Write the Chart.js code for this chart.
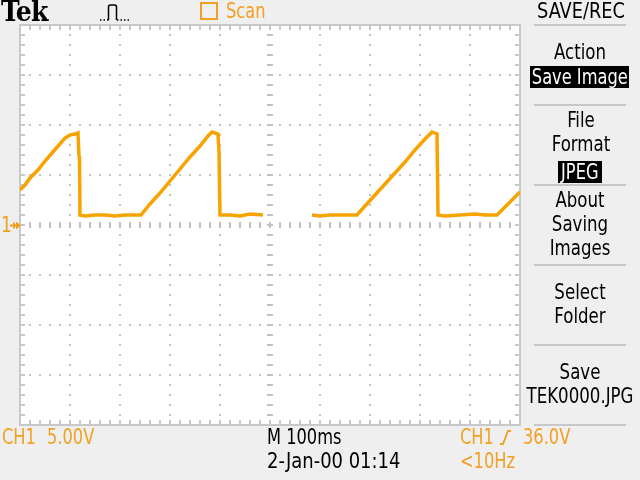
<!DOCTYPE html>
<html><head><meta charset="utf-8">
<script src="https://cdn.jsdelivr.net/npm/chart.js@4"></script>
<style>
html,body{margin:0;padding:0;background:#efefef;width:640px;height:480px;overflow:hidden}
#wrap{position:relative;width:640px;height:480px;background:#efefef}
canvas{position:absolute;left:0;top:0}
.t{position:absolute;font-family:"DejaVu Sans Condensed","Liberation Sans Narrow",sans-serif;font-size:21px;line-height:22px;height:22px;white-space:nowrap;color:#000;transform:scaleX(.86);transform-origin:left center}
.o{color:#f2a024}
.c{transform:translateX(-50%) scaleX(.88);transform-origin:center center}
.sep{position:absolute;left:534px;width:92px;height:2px;background:#c8c8c8}
.box{position:absolute;background:#000;height:22px;display:flex;justify-content:center;align-items:center;overflow:visible}
.box span{font-family:"DejaVu Sans Condensed",sans-serif;font-size:21px;line-height:22px;color:#fff;white-space:nowrap;display:inline-block;transform:scaleX(.86)}
</style></head>
<body><div id="wrap">
<canvas id="c" width="640" height="480"></canvas>
<div class="t" style="left:1px;top:-1px;height:26px;line-height:26px;font-family:'DejaVu Serif',serif;font-weight:bold;font-size:27px;letter-spacing:-1px;transform:scaleX(.93)">Tek</div>
<svg style="position:absolute;left:98px;top:2px" width="32" height="20"><path d="M2 18h1.5M5.5 18h1.5M9 18h1.5" stroke="#000" stroke-width="1.6" fill="none"/><path d="M10.5 18V5q0-2 2-2h4q2 0 2 2v13" stroke="#000" stroke-width="1.5" fill="none"/><path d="M19 18h1.5M22.5 18h1.5M26 18h1.5M29.5 18h1.5" stroke="#000" stroke-width="1.6" fill="none"/></svg>
<div style="position:absolute;left:200px;top:2px;width:14px;height:14px;border:2px solid #f2a024"></div>
<div class="t o" style="left:226px;top:0px">Scan</div>

<div class="t c" style="left:581px;top:0px;transform:translateX(-50%) scaleX(.94)">SAVE/REC</div>
<div class="sep" style="top:24px"></div>
<div class="t c" style="left:580px;top:41px">Action</div>
<div class="box" style="left:530px;top:66px;width:99px"><span>Save Image</span></div>
<div class="sep" style="top:104px"></div>
<div class="t c" style="left:581px;top:109px">File</div>
<div class="t c" style="left:581px;top:133px">Format</div>
<div class="box" style="left:558px;top:161px;width:44px"><span>JPEG</span></div>
<div class="sep" style="top:184px"></div>
<div class="t c" style="left:580px;top:189px">About</div>
<div class="t c" style="left:580px;top:213px">Saving</div>
<div class="t c" style="left:580px;top:237px">Images</div>
<div class="sep" style="top:264px"></div>
<div class="t c" style="left:580px;top:281px">Select</div>
<div class="t c" style="left:580px;top:305px">Folder</div>
<div class="sep" style="top:344px"></div>
<div class="t c" style="left:580px;top:361px">Save</div>
<div class="t c" style="left:580px;top:385px">TEK0000.JPG</div>
<div class="sep" style="top:424px"></div>

<div class="t o" style="left:1px;top:214px;font-size:22px">1</div>
<svg style="position:absolute;left:10px;top:220px" width="12" height="11"><path d="M0 5.5h6M4 2.5v6" stroke="#f2a024" stroke-width="2"/><path d="M6 1.5l5 4l-5 4z" fill="#f2a024"/></svg>

<div class="t o" style="left:2px;top:426px">CH1</div>
<div class="t o" style="left:47px;top:426px">5.00V</div>
<div class="t" style="left:267px;top:426px">M 100ms</div>
<div class="t" style="left:267px;top:450px;transform:scaleX(.95)">2-Jan-00 01:14</div>
<div class="t o" style="left:460px;top:426px">CH1</div>
<svg style="position:absolute;left:499px;top:429px" width="14" height="16"><path d="M1 15h3l5-13h3" stroke="#f2a024" stroke-width="1.8" fill="none"/></svg>
<div class="t o" style="left:523px;top:426px">36.0V</div>
<div class="t o" style="left:460px;top:450px">&lt;10Hz</div>
</div>
<script>
// time (ms) and channel 1 voltage (V); null = no acquisition (scan gap)
const timeMs = [0,10,20,36,50,64,78,90,100,110,116,118,119,120,130,150,170,190,210,230,242,
  260,280,300,320,340,360,376,384,396,398,400,420,440,460,486,488,
  582,584,600,620,650,674,690,710,730,750,770,790,810,816,824,834,836,850,880,910,930,954,970,990,1000];
const ch1Volts = [3.5,4.0,4.7,5.5,6.4,7.2,8.0,8.7,9.0,9.1,9.2,6.9,6.8,1.0,0.9,1.0,1.0,0.9,1.0,1.0,1.0,
  2.1,3.2,4.4,5.6,6.8,7.9,8.9,9.3,9.1,7.3,1.0,1.0,0.9,1.1,1.0,null,
  null,1.0,0.9,1.0,1.0,1.0,1.9,3.0,4.1,5.2,6.3,7.5,8.6,8.9,9.3,9.1,1.0,0.9,1.0,1.1,1.0,1.0,1.8,2.8,3.3];
const timeDivs = [0,100,200,300,400,500,600,700,800,900,1000];
const voltDivs = [-20,-15,-10,-5,0,5,10,15,20];

const graticule = {
  id: 'graticule',
  beforeDatasetsDraw(chart) {
    const {ctx, chartArea: a, scales: {x, y}} = chart;
    ctx.save();
    ctx.fillStyle = '#ffffff';
    ctx.fillRect(a.left, a.top, a.right - a.left, a.bottom - a.top);
    ctx.fillStyle = '#c2c2c2';
    const minorT = [], minorV = [];
    for (let t = timeDivs[0]; t <= timeDivs[timeDivs.length-1]; t += 20) minorT.push(t);
    for (let v = voltDivs[0]; v <= voltDivs[voltDivs.length-1]; v += 1) minorV.push(v);
    timeDivs.slice(1, -1).forEach(t => {
      const px = Math.round(x.getPixelForValue(t));
      minorV.forEach(v => ctx.fillRect(px - 1, Math.round(y.getPixelForValue(v)) - 1, 2, 2));
    });
    voltDivs.slice(1, -1).forEach(v => {
      const py = Math.round(y.getPixelForValue(v));
      minorT.forEach(t => ctx.fillRect(Math.round(x.getPixelForValue(t)) - 1, py - 1, 2, 2));
    });
    const cx = Math.round(x.getPixelForValue(500)), cy = Math.round(y.getPixelForValue(0));
    minorV.forEach(v => ctx.fillRect(cx - 3, Math.round(y.getPixelForValue(v)) - 1, 6, 2));
    minorT.forEach(t => ctx.fillRect(Math.round(x.getPixelForValue(t)) - 1, cy - 3, 2, 6));
    ctx.fillStyle = '#c8c8c8';
    const L = Math.round(a.left), R = Math.round(a.right), T = Math.round(a.top), B = Math.round(a.bottom);
    ctx.fillRect(L - 1, T - 1, R - L + 2, 2);
    ctx.fillRect(L - 1, B - 1, R - L + 2, 2);
    ctx.fillRect(L - 1, T - 1, 2, B - T + 2);
    ctx.fillRect(R - 1, T - 1, 2, B - T + 2);
    minorT.forEach(t => { const px = Math.round(x.getPixelForValue(t));
      ctx.fillRect(px - 1, T, 2, 5); ctx.fillRect(px - 1, B - 5, 2, 5); });
    minorV.forEach(v => { const py = Math.round(y.getPixelForValue(v));
      ctx.fillRect(L, py - 1, 5, 2); ctx.fillRect(R - 5, py - 1, 5, 2); });
    ctx.restore();
  }
};

new Chart(document.getElementById('c'), {
  type: 'line',
  data: {
    datasets: [{
      label: 'CH1',
      data: timeMs.map((t, i) => ({x: t, y: ch1Volts[i]})),
      borderColor: '#f7a300',
      borderWidth: 3.5,
      pointRadius: 0,
      tension: 0,
      spanGaps: false,
      fill: false,
      borderJoinStyle: 'miter'
    }]
  },
  options: {
    responsive: false,
    animation: false,
    devicePixelRatio: 1,
    layout: {padding: {left: 20, top: 25, right: 120, bottom: 55}},
    scales: {
      x: {type: 'linear', min: 0, max: 1000, display: false},
      y: {type: 'linear', min: -20, max: 20, display: false}
    },
    plugins: {legend: {display: false}, tooltip: {enabled: false}}
  },
  plugins: [graticule]
});
</script>
</body></html>
